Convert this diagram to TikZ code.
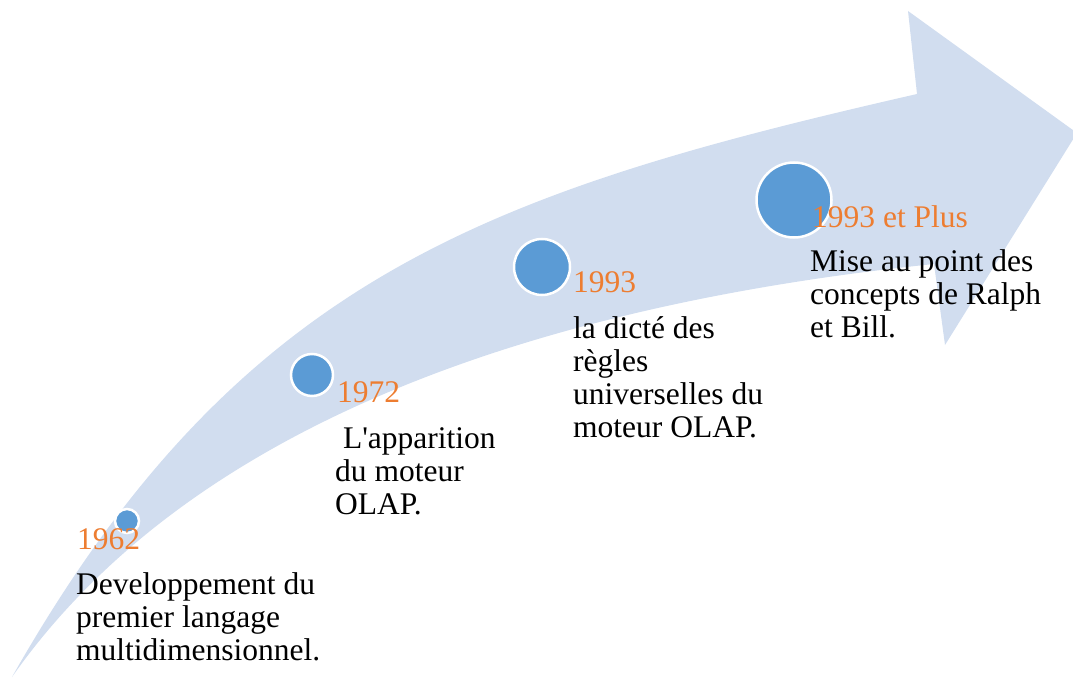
\documentclass[tikz,border=0pt]{standalone}
\usepackage{fontspec}
\setmainfont{Liberation Serif}
\definecolor{bandblue}{HTML}{D1DDEF}
\definecolor{dotblue}{HTML}{5B9BD5}
\definecolor{yearorange}{HTML}{ED7D31}

\begin{document}
\begin{tikzpicture}[x=1pt,y=-1pt,
  milestone/.style={circle,fill=dotblue,draw=white,line width=2.5pt,inner sep=0pt,minimum size=#1},
  yearlbl/.style={anchor=base west,inner sep=0pt,text=yearorange,font=\fontsize{31.5}{33}\selectfont},
  % multi-line text: the base anchor sits on the last line's baseline
  desc/.style={anchor=base west,inner sep=0pt,align=left,font=\fontsize{31.5}{33}\selectfont}]
\useasboundingbox (0,0) rectangle (1073,679);
\clip (0,0) rectangle (1073,679);

% curved timeline arrow
\coordinate (tail) at (12,677);
\coordinate (notchTop) at (917,94);
\coordinate (headTop) at (908,11);
\coordinate (tip) at (1077,133);
\coordinate (headBot) at (945,345);
\coordinate (notchBot) at (934,264);
\fill[bandblue] (tail) .. controls (239,277) and (488,192) .. (notchTop)
  -- (headTop) -- (tip) -- (headBot) -- (notchBot)
  .. controls (558,303) and (196,415) .. (tail) -- cycle;

% milestones
\node[milestone=24pt] (m1) at (127,521) {};
\node[milestone=42pt] (m2) at (312,375) {};
\node[milestone=56pt] (m3) at (542,267) {};
\node[milestone=75pt] (m4) at (794,200) {};

% years
\node[yearlbl] (y1) at (77,549) {1962};
\node[yearlbl] (y2) at (337,402) {1972};
\node[yearlbl] (y3) at (573,292) {1993};
\node[yearlbl] (y4) at (812,227) {1993 et Plus};

% descriptions
\node[desc] (d1) at (76,660) {Developpement du\\premier langage\\multidimensionnel.};
\node[desc] (d2) at (335,514) {\ L\textquotesingle apparition\\du moteur\\OLAP.};
\node[desc] (d3) at (573,437) {la dicté des\\règles\\universelles du\\moteur OLAP.};
\node[desc] (d4) at (810,337) {Mise au point des\\concepts de Ralph\\et Bill.};
\end{tikzpicture}
\end{document}
